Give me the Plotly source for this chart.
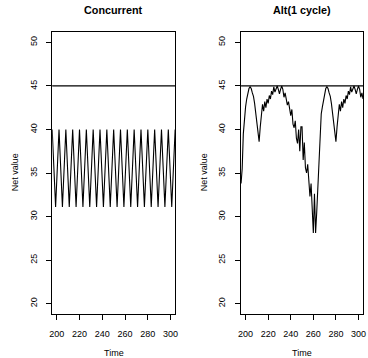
import plotly.graph_objects as go

# ---------------- data ----------------
conc_time = [196, 199, 202, 205, 208, 211, 214, 217, 220, 223, 226, 229, 232, 235,
             238, 241, 244, 247, 250, 253, 256, 259, 262, 265, 268, 271, 274, 277,
             280, 283, 286, 289, 292, 295, 298, 301, 304]
conc_value = [40, 31.1, 40, 31.1, 40, 31.1, 40, 31.1, 40, 31.1, 40, 31.1, 40, 31.1,
              40, 31.1, 40, 31.1, 40, 31.1, 40, 31.1, 40, 31.1, 40, 31.1, 40, 31.1,
              40, 31.1, 40, 31.1, 40, 31.1, 40, 31.1, 40]

alt_time = list(range(196, 305))
alt_value = [
    33.8, 35.5, 39.5, 41.8, 42.6, 43.5, 44.2, 44.7, 44.9, 44.7,   # 196-205
    44.2, 43.8, 43.0, 42.0, 41.1, 39.9, 38.6, 40.3, 41.9, 42.9,   # 206-215
    42.1, 43.2, 42.5, 43.5, 43.0, 43.9, 43.5, 44.4, 44.0, 44.9,   # 216-225
    44.3, 44.6, 45.0, 44.6, 44.1, 44.6, 45.0, 44.6, 43.7, 44.2,   # 226-235
    43.5, 42.8, 43.2, 42.0, 41.6, 42.3, 40.6, 40.2, 41.0, 39.0,   # 236-245
    38.4, 40.0, 37.5, 40.3, 40.3, 36.5, 38.5, 35.6, 35.0, 36.0,   # 246-255
    34.0, 32.3, 33.8, 31.0, 28.1, 32.6, 28.1, 30.5,               # 256-263
    33.8, 35.5, 39.5, 41.8, 42.6, 43.5, 44.2, 44.7, 44.9, 44.7,   # 264-273
    44.2, 43.8, 43.0, 42.0, 41.1, 39.9, 38.6, 40.3, 41.9, 42.9,   # 274-283
    42.1, 43.2, 42.5, 43.5, 43.0, 43.9, 43.5, 44.4, 44.0, 44.9,   # 284-293
    44.3, 44.6, 45.0, 44.6, 44.1, 44.6, 45.0, 44.6, 43.7, 44.2,   # 294-303
    43.5,                                                           # 304
]

target_value = 45
x_ticks = [200, 220, 240, 260, 280, 300]
y_ticks = [20, 25, 30, 35, 40, 45, 50]
x_range = [196, 304]
y_range = [18.8, 51.2]
titles = ["Concurrent", "Alt(1 cycle)"]

# ---------------- figure ----------------
W, H = 368, 358
FONT = "Liberation Sans, Arial, Helvetica, sans-serif"

fig = go.Figure()
fig.add_trace(go.Scatter(x=conc_time, y=conc_value, mode="lines",
                         line=dict(color="black", width=1.1), xaxis="x", yaxis="y",
                         showlegend=False, hoverinfo="skip"))
fig.add_trace(go.Scatter(x=alt_time, y=alt_value, mode="lines",
                         line=dict(color="black", width=1.1), xaxis="x2", yaxis="y2",
                         showlegend=False, hoverinfo="skip"))

left_px = [(50, 175), (242, 366)]
top_px, bot_px = 32, 314


def xa(dom, anchor):
    return dict(domain=dom, range=x_range, tickvals=x_ticks, ticks="outside",
                ticklen=5, tickwidth=1, tickcolor="black", showline=True,
                mirror=True, linecolor="black", linewidth=1, showgrid=False,
                zeroline=False, tickfont=dict(size=9, color="black", family=FONT),
                ticklabelstandoff=6, anchor=anchor, fixedrange=True)


def ya(anchor):
    return dict(domain=[1 - bot_px / H, 1 - top_px / H], range=y_range,
                tickvals=y_ticks, ticks="outside", ticklen=5, tickwidth=1,
                tickcolor="black", showline=True, mirror=True, linecolor="black",
                linewidth=1, showgrid=False, zeroline=False, tickangle=-90,
                tickfont=dict(size=9, color="black", family=FONT),
                ticklabelstandoff=6, anchor=anchor, fixedrange=True)


annotations = []
for i, (l, r) in enumerate(left_px):
    cx = (l + r) / 2 / W
    annotations.append(dict(text="<b>" + titles[i] + "</b>", x=cx, y=1 - 10 / H,
                            xref="paper", yref="paper", showarrow=False,
                            xanchor="center", yanchor="middle",
                            font=dict(size=10.8, color="black", family=FONT)))
    annotations.append(dict(text="Time", x=cx, y=1 - 353 / H, xref="paper",
                            yref="paper", showarrow=False, xanchor="center",
                            yanchor="middle",
                            font=dict(size=9, color="black", family=FONT)))
    annotations.append(dict(text="Net value", x=(l - 38) / W, y=1 - 172.5 / H,
                            xref="paper", yref="paper", showarrow=False,
                            textangle=-90, xanchor="center", yanchor="middle",
                            font=dict(size=9, color="black", family=FONT)))

shapes = [
    dict(type="line", xref="x domain", yref="y", x0=0, x1=1, y0=target_value,
         y1=target_value, line=dict(color="black", width=1.3)),
    dict(type="line", xref="x2 domain", yref="y2", x0=0, x1=1, y0=target_value,
         y1=target_value, line=dict(color="black", width=1.3)),
]

fig.update_layout(
    width=W, height=H, margin=dict(l=0, r=0, t=0, b=0),
    paper_bgcolor="white", plot_bgcolor="white",
    font=dict(family=FONT, color="black"),
    xaxis=xa([left_px[0][0] / W, left_px[0][1] / W], "y"),
    yaxis=ya("x"),
    xaxis2=xa([left_px[1][0] / W, left_px[1][1] / W], "y2"),
    yaxis2=ya("x2"),
    annotations=annotations, shapes=shapes, showlegend=False,
)

fig.write_html("out.html", config={"displayModeBar": False})
